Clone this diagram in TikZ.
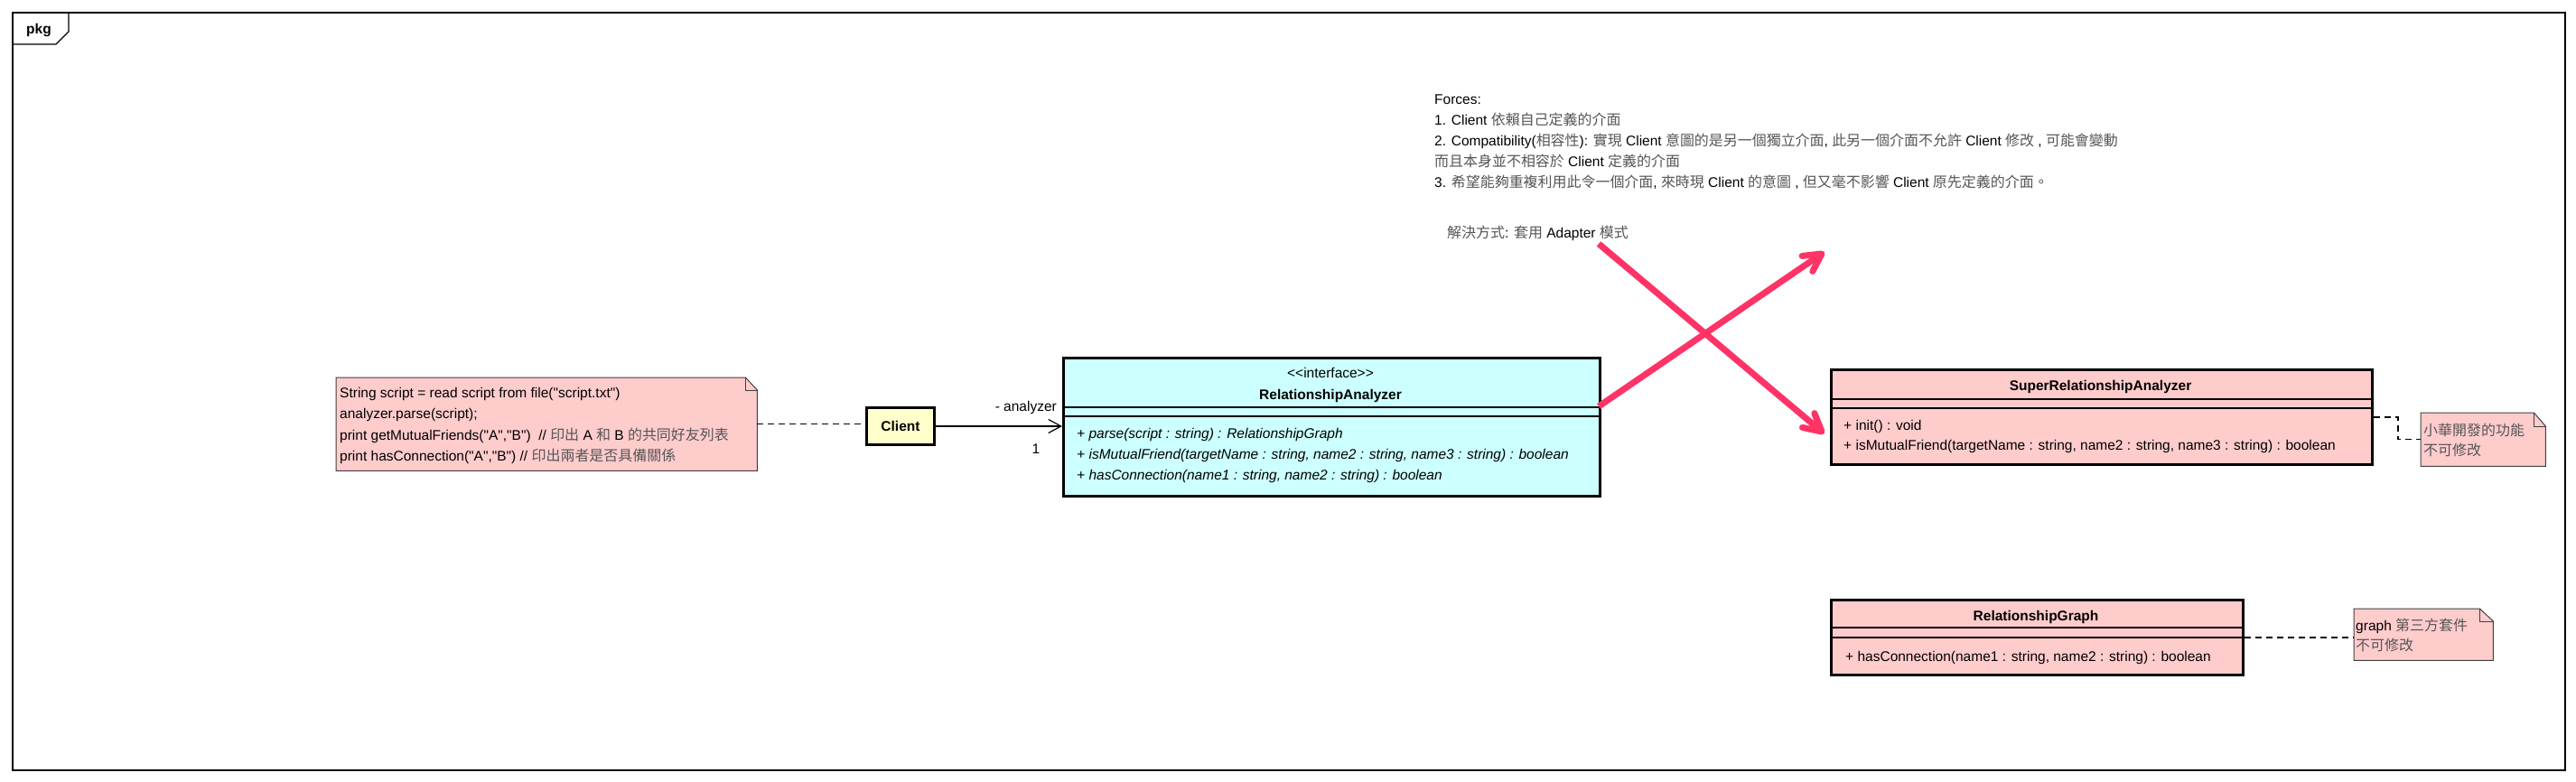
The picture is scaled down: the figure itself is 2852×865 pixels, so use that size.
\documentclass[tikz,border=0pt]{standalone}
\usepackage{fontspec}
\setmainfont{Liberation Sans}[Ligatures=TeXOff]
\newfontfamily\cjkf{Noto Sans CJK TC}[Scale=1.03]
\usetikzlibrary{calc,arrows.meta}
\definecolor{pinkfill}{HTML}{FFCCCC}
\definecolor{cyanfill}{HTML}{CCFFFF}
\definecolor{yelfill}{HTML}{FFFFCC}
\definecolor{hotpink}{HTML}{FF3366}
\definecolor{cjkgray}{HTML}{555555}
\newcommand\zh[1]{{\cjkf\color{cjkgray}#1}}
\newcommand\fs{\fontsize{15.5pt}{23pt}\selectfont}
\newcommand\dognote[3]{%
  \filldraw[noteline] (#1.north west) -- ([xshift=-#2]#1.north east) -- ([yshift=-#3]#1.north east) -- (#1.south east) -- (#1.south west) -- cycle;
  \draw[noteline, fill=none] ([xshift=-#2]#1.north east) -- ([xshift=-#2,yshift=-#3]#1.north east) -- ([yshift=-#3]#1.north east);}
\begin{document}
\begin{tikzpicture}[x=1pt,y=-1pt,
  txt/.style={anchor=base west, inner sep=0pt, font=\fs},
  itxt/.style={anchor=base west, inner sep=0pt, font=\fs\itshape},
  ctxt/.style={anchor=base, inner sep=0pt, font=\fs},
  btxt/.style={anchor=base, inner sep=0pt, font=\fs\bfseries},
  classbox/.style={draw=black, line width=3pt, anchor=north west, inner sep=0pt},
  noteshape/.style={anchor=north west, inner sep=0pt},
  noteline/.style={draw=black!75, line width=1pt, fill=pinkfill},
  divider/.style={line width=1.2pt},
  dashline/.style={line width=1.2pt, dash pattern=on 7pt off 5pt},
  pinkarrow/.style={draw=hotpink, line width=7pt},
]
\useasboundingbox (0,0) rectangle (2852,865);
% frame
\node[draw, line width=2pt, anchor=north west, minimum width=2826pt, minimum height=839pt, inner sep=0pt] (frame) at (13,13) {};
\draw[line width=1.2pt] (13,49) -- (62,49) -- (76,35) -- (76,13);
\node[btxt] (pkg) at (43,37) {pkg};

% forces text
\node[txt] (f0) at (1588,115) {Forces:};
\node[txt] (f1) at (1588,138) {1. Client \zh{依賴自己定義的介面}};
\node[txt] (f2) at (1588,161) {2. Compatibility(\zh{相容性}): \zh{實現} Client \zh{意圖的是另一個獨立介面}, \zh{此另一個介面不允許} Client \zh{修改} , \zh{可能會變動}};
\node[txt] (f3) at (1588,184) {\zh{而且本身並不相容於} Client \zh{定義的介面}};
\node[txt] (f4) at (1588,207) {3. \zh{希望能夠重複利用此令一個介面}, \zh{來時現} Client \zh{的意圖} , \zh{但又毫不影響} Client \zh{原先定義的介面。}};
\node[txt] (sol) at (1602,263) {\zh{解決方式}: \zh{套用} Adapter \zh{模式}};

% note 1
\node[noteshape, minimum width=466pt, minimum height=103pt] (n1) at (372,418) {};
\dognote{n1}{13pt}{14pt}
\node[txt] (n1a) at (376,440) {String script = read script from file("script.txt")};
\node[txt] (n1b) at (376,463) {analyzer.parse(script);};
\node[txt] (n1c) at (376,487) {print getMutualFriends("A","B")\ \ // \zh{印出} A \zh{和} B \zh{的共同好友列表}};
\node[txt] (n1d) at (376,510) {print hasConnection("A","B") // \zh{印出兩者是否具備關係}};

% client
\node[classbox, fill=yelfill, minimum width=75pt, minimum height=41pt, font=\fs\bfseries] (client) at (958,450) {Client};

% RelationshipAnalyzer
\node[classbox, fill=cyanfill, minimum width=594pt, minimum height=153pt] (ra) at (1176,395) {};
\draw[divider] ([yshift=-56pt]ra.north west) -- ([yshift=-56pt]ra.north east);
\draw[divider] ([yshift=-66pt]ra.north west) -- ([yshift=-66pt]ra.north east);
\node[ctxt] (ster) at (1473,418) {<<interface>>};
\node[btxt] (ran) at (1473,442) {RelationshipAnalyzer};
\node[itxt] (ram1) at (1192,485) {+ parse(script : string) : RelationshipGraph};
\node[itxt] (ram2) at (1192,508) {+ isMutualFriend(targetName : string, name2 : string, name3 : string) : boolean};
\node[itxt] (ram3) at (1192,531) {+ hasConnection(name1 : string, name2 : string) : boolean};

% connectors left
\draw[dashline] (n1.east) -- (n1.east -| client.west);
\draw[line width=1.2pt, -{Straight Barb[length=14pt,width=15pt]}] (client.east) -- (client.east -| ra.west);
\node[anchor=base east, inner sep=0pt, font=\fs] (role) at (1170,455) {- analyzer};
\node[ctxt] (mult) at (1147,502) {1};

% SuperRelationshipAnalyzer
\node[classbox, fill=pinkfill, minimum width=599pt, minimum height=105pt] (sra) at (2026,408) {};
\draw[divider] ([yshift=-34pt]sra.north west) -- ([yshift=-34pt]sra.north east);
\draw[divider] ([yshift=-44pt]sra.north west) -- ([yshift=-44pt]sra.north east);
\node[btxt] (sran) at (2325.5,432) {SuperRelationshipAnalyzer};
\node[txt] (sram1) at (2041,476) {+ init() : void};
\node[txt] (sram2) at (2041,498) {+ isMutualFriend(targetName : string, name2 : string, name3 : string) : boolean};

% note 2
\node[noteshape, minimum width=138pt, minimum height=59pt] (n2) at (2680,457) {};
\dognote{n2}{13pt}{15pt}
\node[txt] (n2a) at (2683,482) {\zh{小華開發的功能}};
\node[txt] (n2b) at (2683,504) {\zh{不可修改}};
\draw[dashline] (sra.east) -- ++(27,0) |- (n2.west);

% RelationshipGraph
\node[classbox, fill=pinkfill, minimum width=456pt, minimum height=83pt] (rg) at (2026,663) {};
\draw[divider] ([yshift=-32pt]rg.north west) -- ([yshift=-32pt]rg.north east);
\draw[divider] ([yshift=-43pt]rg.north west) -- ([yshift=-43pt]rg.north east);
\node[btxt] (rgn) at (2254,687) {RelationshipGraph};
\node[txt] (rgm1) at (2043,732) {+ hasConnection(name1 : string, name2 : string) : boolean};

% note 3
\node[noteshape, minimum width=154pt, minimum height=57pt] (n3) at (2606,674) {};
\dognote{n3}{15pt}{14pt}
\node[txt] (n3a) at (2608,698) {graph \zh{第三方套件}};
\node[txt] (n3b) at (2608,720) {\zh{不可修改}};
\draw[dashline] (rg.east) -- (rg.east -| n3.west);

% pink arrows
\coordinate (a1s) at (1770,270);
\coordinate (a1t) at (2017,478);
\coordinate (a2s) at (1770,450);
\coordinate (a2t) at (2017,281);
\draw[pinkarrow, line cap=butt] (a1s) -- (a1t);
\draw[pinkarrow, line cap=round, line join=round] ($(a1t)!22pt!28:(a1s)$) -- (a1t) -- ($(a1t)!22pt!-28:(a1s)$);
\draw[pinkarrow, line cap=butt] (a2s) -- (a2t);
\draw[pinkarrow, line cap=round, line join=round] ($(a2t)!22pt!28:(a2s)$) -- (a2t) -- ($(a2t)!22pt!-28:(a2s)$);
\end{tikzpicture}
\end{document}
